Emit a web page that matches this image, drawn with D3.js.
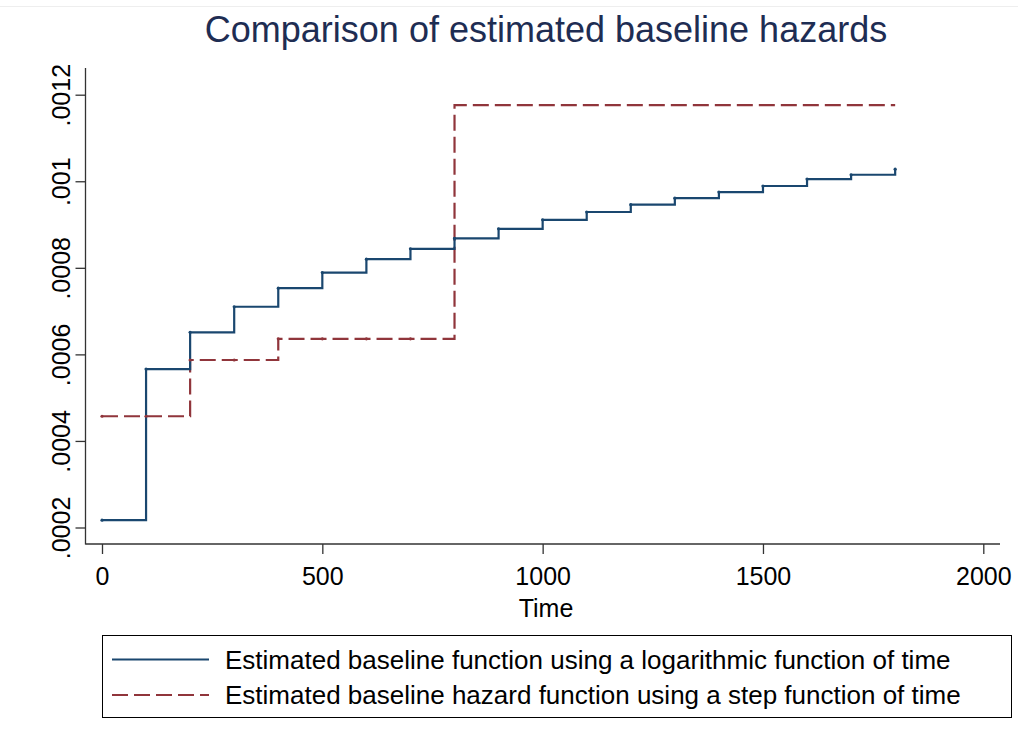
<!DOCTYPE html>
<html>
<head>
<meta charset="utf-8">
<script src="https://cdn.jsdelivr.net/npm/d3@7"></script>
<style>
  html, body { margin: 0; padding: 0; background: #fff; }
  svg { display: block; font-family: "Liberation Sans", Arial, Helvetica, sans-serif; }
</style>
</head>
<body>
<svg id="chart" width="1018" height="740"></svg>
<script>
// ---- data ----
const times = [0, 100, 200, 300, 400, 500, 600, 700, 800, 900, 1000, 1100, 1200, 1300, 1400, 1500, 1600, 1700, 1800];
const logHazard = [0.000217, 0.000566, 0.000651, 0.000710, 0.000753, 0.000789, 0.000820, 0.000844, 0.000868, 0.000890,
                   0.000911, 0.000929, 0.000946, 0.000961, 0.000975, 0.000989, 0.001005, 0.001015, 0.001028];
const stepHazard = [0.000457, 0.000457, 0.000587, 0.000587, 0.000636, 0.000636, 0.000636, 0.000636, 0.001176, 0.001176,
                    0.001176, 0.001176, 0.001176, 0.001176, 0.001176, 0.001176, 0.001176, 0.001176, 0.001176];
const xTicks = [0, 500, 1000, 1500, 2000];
const yTicks = [0.0002, 0.0004, 0.0006, 0.0008, 0.0010, 0.0012];
const yTickLabels = [".0002", ".0004", ".0006", ".0008", ".001", ".0012"];
const seriesNames = ["Estimated baseline function using a logarithmic function of time",
                     "Estimated baseline hazard function using a step function of time"];
const titleText = "Comparison of estimated baseline hazards";
const xTitle = "Time";

// ---- layout ----
const svg = d3.select("#chart");
const x = d3.scaleLinear().domain([0, 2000]).range([102, 983.3]);
const y = d3.scaleLinear().domain([0.0002, 0.0012]).range([527.5, 94.7]);
const axisX0 = 85.5, axisY0 = 544;
const blue = "#1a476f", red = "#90353b";

// faint outer border at top
svg.append("line").attr("x1", 0).attr("x2", 1018).attr("y1", 6.5).attr("y2", 6.5)
  .attr("stroke", "#eeeeee").attr("stroke-width", 1);

// title
svg.append("text").attr("x", 546).attr("y", 42).attr("text-anchor", "middle")
  .attr("font-size", 36).attr("fill", "#1e2d53").text(titleText);

// y axis
const yAxis = svg.append("g").attr("transform", `translate(${axisX0},0)`)
  .call(d3.axisLeft(y).tickValues(yTicks).tickFormat((d, i) => yTickLabels[i]).tickSize(10).tickSizeOuter(0));
yAxis.select(".domain").remove();
yAxis.append("line").attr("x1", 0).attr("x2", 0).attr("y1", 68).attr("y2", axisY0 + 0.5)
  .attr("stroke", "#333").attr("stroke-width", 1.3);
yAxis.selectAll(".tick line").attr("stroke", "#333").attr("stroke-width", 1.3);
yAxis.selectAll(".tick text")
  .attr("font-size", 25).attr("fill", "#000").attr("font-family", "Liberation Sans, Arial, sans-serif")
  .attr("x", null).attr("dy", null)
  .attr("transform", "translate(-16,0) rotate(-90)")
  .attr("text-anchor", "middle").attr("y", 0);

// x axis
const xAxis = svg.append("g").attr("transform", `translate(0,${axisY0})`)
  .call(d3.axisBottom(x).tickValues(xTicks).tickFormat(d3.format("d")).tickSize(10).tickSizeOuter(0));
xAxis.select(".domain").remove();
xAxis.append("line").attr("x1", axisX0).attr("x2", 1000).attr("y1", 0).attr("y2", 0)
  .attr("stroke", "#333").attr("stroke-width", 1.3);
xAxis.selectAll(".tick line").attr("stroke", "#333").attr("stroke-width", 1.3);
xAxis.selectAll(".tick text").attr("font-size", 25).attr("fill", "#000")
  .attr("font-family", "Liberation Sans, Arial, sans-serif").attr("dy", null).attr("y", 41);

svg.append("text").attr("x", 546).attr("y", 617).attr("text-anchor", "middle")
  .attr("font-size", 25).attr("fill", "#000").text(xTitle);

// series
const line = d3.line().x(d => x(d[0])).y(d => y(d[1])).curve(d3.curveStepAfter);
const blueData = times.map((t, i) => [t, logHazard[i]]);
const redData = times.map((t, i) => [t, stepHazard[i]]);

svg.append("path").datum(redData).attr("d", line).attr("fill", "none")
  .attr("stroke", red).attr("stroke-width", 2.2).attr("stroke-dasharray", "16,6");
svg.append("path").datum(blueData).attr("d", line).attr("fill", "none")
  .attr("stroke", blue).attr("stroke-width", 2.2);

svg.append("g").selectAll("circle").data(redData.slice(0, 8)).join("circle")
  .attr("cx", d => x(d[0])).attr("cy", d => y(d[1])).attr("r", 1.6).attr("fill", red);
svg.append("g").selectAll("circle").data(blueData).join("circle")
  .attr("cx", d => x(d[0])).attr("cy", d => y(d[1])).attr("r", 1.6).attr("fill", blue);

// legend
const lg = svg.append("g");
lg.append("rect").attr("x", 102.5).attr("y", 635.5).attr("width", 909).attr("height", 82)
  .attr("fill", "#fff").attr("stroke", "#000").attr("stroke-width", 1);
const legendItems = [{ name: seriesNames[0], color: blue, dash: null, y: 659.5 },
                     { name: seriesNames[1], color: red, dash: "16,6", y: 695 }];
legendItems.forEach(it => {
  lg.append("line").attr("x1", 112).attr("x2", 209).attr("y1", it.y).attr("y2", it.y)
    .attr("stroke", it.color).attr("stroke-width", 2.2).attr("stroke-dasharray", it.dash);
  lg.append("text").attr("x", 225).attr("y", it.y + 9).attr("font-size", 26).attr("fill", "#000")
    .text(it.name);
});
</script>
</body>
</html>
